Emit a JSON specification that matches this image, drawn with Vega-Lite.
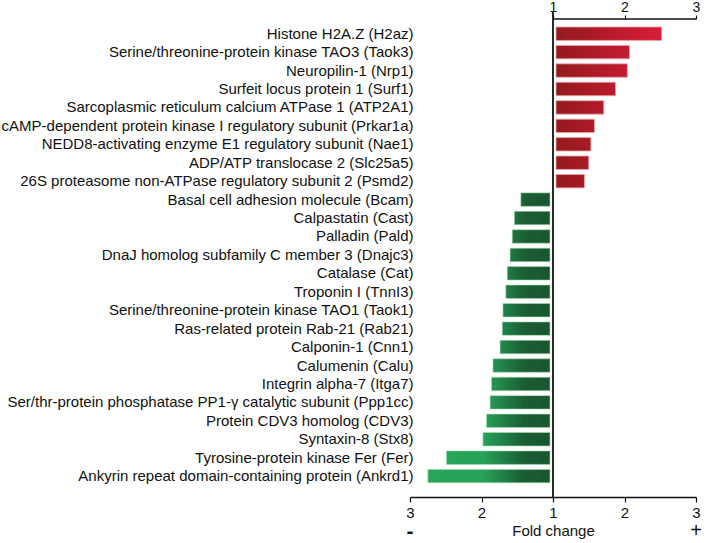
{
  "$schema": "https://vega.github.io/schema/vega-lite/v6.json",
  "width": 286,
  "height": 478,
  "autosize": {"type": "none"},
  "padding": {"left": 410, "top": 19, "right": 12, "bottom": 46},
  "config": {
    "font": "Liberation Sans",
    "view": {"stroke": null},
    "axis": {"grid": false, "labelColor": "#111111", "titleColor": "#111111", "domainColor": "#111111", "tickColor": "#111111"}
  },
  "datasets": {
    "proteins": [
      {"protein": "Histone H2A.Z (H2az)", "dir": "up", "fold": 2.52},
      {"protein": "Serine/threonine-protein kinase TAO3 (Taok3)", "dir": "up", "fold": 2.07},
      {"protein": "Neuropilin-1 (Nrp1)", "dir": "up", "fold": 2.04},
      {"protein": "Surfeit locus protein 1 (Surf1)", "dir": "up", "fold": 1.875},
      {"protein": "Sarcoplasmic reticulum calcium ATPase 1 (ATP2A1)", "dir": "up", "fold": 1.71},
      {"protein": "cAMP-dependent protein kinase I regulatory subunit (Prkar1a)", "dir": "up", "fold": 1.58},
      {"protein": "NEDD8-activating enzyme E1 regulatory subunit (Nae1)", "dir": "up", "fold": 1.53},
      {"protein": "ADP/ATP translocase 2 (Slc25a5)", "dir": "up", "fold": 1.5},
      {"protein": "26S proteasome non-ATPase regulatory subunit 2 (Psmd2)", "dir": "up", "fold": 1.44},
      {"protein": "Basal cell adhesion molecule (Bcam)", "dir": "down", "fold": 1.45},
      {"protein": "Calpastatin (Cast)", "dir": "down", "fold": 1.54},
      {"protein": "Palladin (Pald)", "dir": "down", "fold": 1.57},
      {"protein": "DnaJ homolog subfamily C member 3 (Dnajc3)", "dir": "down", "fold": 1.6},
      {"protein": "Catalase (Cat)", "dir": "down", "fold": 1.64},
      {"protein": "Troponin I (TnnI3)", "dir": "down", "fold": 1.66},
      {"protein": "Serine/threonine-protein kinase TAO1 (Taok1)", "dir": "down", "fold": 1.7},
      {"protein": "Ras-related protein Rab-21 (Rab21)", "dir": "down", "fold": 1.71},
      {"protein": "Calponin-1 (Cnn1)", "dir": "down", "fold": 1.74},
      {"protein": "Calumenin (Calu)", "dir": "down", "fold": 1.84},
      {"protein": "Integrin alpha-7 (Itga7)", "dir": "down", "fold": 1.86},
      {"protein": "Ser/thr-protein phosphatase PP1-γ catalytic subunit (Ppp1cc)", "dir": "down", "fold": 1.88},
      {"protein": "Protein CDV3 homolog (CDV3)", "dir": "down", "fold": 1.93},
      {"protein": "Syntaxin-8 (Stx8)", "dir": "down", "fold": 1.98},
      {"protein": "Tyrosine-protein kinase Fer (Fer)", "dir": "down", "fold": 2.49},
      {"protein": "Ankyrin repeat domain-containing protein (Ankrd1)", "dir": "down", "fold": 2.75}
    ],
    "single": [{"n": 1}]
  },
  "resolve": {"scale": {"x": "independent"}},
  "layer": [
    {
      "data": {"name": "proteins"},
      "transform": [{"filter": "datum.dir == 'up'"}],
      "mark": {
        "type": "bar",
        "x2Offset": 3,
        "stroke": "#f0a8a8",
        "strokeWidth": 0.8,
        "fill": {"expr": "{gradient: 'linear', x1: 0, y1: 0, x2: 1.52 / (datum.fold - 1), y2: 0, stops: [{offset: 0, color: '#931a1c'}, {offset: 1, color: '#da1c3b'}]}"}
      },
      "encoding": {
        "y": {
          "field": "protein", "type": "nominal", "sort": null,
          "scale": {"paddingInner": 0.27, "paddingOuter": 0.6, "align": 0.36},
          "axis": {"orient": "left", "title": null, "domain": false, "ticks": false, "labelPadding": -3, "labelFontSize": 15, "labelLimit": 500}
        },
        "x": {
          "field": "fold", "type": "quantitative",
          "scale": {"domain": [-1, 3], "nice": false, "zero": false},
          "axis": {"orient": "top", "values": [1, 2, 3], "format": "d", "title": null, "domain": false, "tickSize": 4, "tickWidth": 1.2, "labelPadding": 1, "labelFontSize": 14, "labelFlush": false}
        },
        "x2": {"datum": 1}
      }
    },
    {
      "data": {"name": "proteins"},
      "transform": [{"filter": "datum.dir == 'down'"}],
      "mark": {
        "type": "bar",
        "x2Offset": -3,
        "stroke": "#a8dcb8",
        "strokeWidth": 0.6,
        "fill": {"expr": "{gradient: 'linear', x1: 1 - 1.75 / (datum.fold - 1), y1: 0, x2: 1, y2: 0, stops: [{offset: 0, color: '#28a45b'}, {offset: 0.45, color: '#27a259'}, {offset: 0.78, color: '#1b5e34'}, {offset: 1, color: '#1a5530'}]}"}
      },
      "encoding": {
        "y": {
          "field": "protein", "type": "nominal", "sort": null,
          "axis": {"orient": "left", "title": null, "domain": false, "ticks": false, "labelPadding": -3, "labelFontSize": 15, "labelLimit": 500}
        },
        "x": {
          "field": "fold", "type": "quantitative",
          "scale": {"domain": [-1, 3], "nice": false, "zero": false, "reverse": true},
          "axis": {
            "orient": "bottom", "values": [3, 2, 1, 0, -1],
            "labelExpr": "datum.value < 1 ? format(2 - datum.value, 'd') : format(datum.value, 'd')",
            "title": "Fold change", "titleFontSize": 15, "titleFontWeight": "normal", "titlePadding": 3,
            "domainWidth": 1.6, "tickSize": 5, "tickWidth": 1.2, "labelPadding": 3, "labelFontSize": 15, "labelFlush": false
          }
        },
        "x2": {"datum": 1}
      }
    },
    {
      "data": {"name": "single"},
      "mark": {"type": "rule", "color": "#111111", "strokeWidth": 1.8, "y": -7, "y2": "height"},
      "encoding": {
        "x": {"datum": 1, "type": "quantitative", "scale": {"domain": [-1, 3], "nice": false, "zero": false}, "axis": null}
      }
    },
    {
      "data": {"name": "single"},
      "mark": {"type": "rule", "color": "#111111", "strokeWidth": 1.6, "y": 0},
      "encoding": {
        "x": {"datum": 1, "type": "quantitative", "scale": {"domain": [-1, 3], "nice": false, "zero": false}, "axis": null},
        "x2": {"datum": 3}
      }
    },
    {
      "data": {"name": "single"},
      "mark": {"type": "text", "text": "-", "fontSize": 21, "fontWeight": "bold", "y": "height", "dy": 35, "color": "#111111"},
      "encoding": {
        "x": {"datum": 3, "type": "quantitative", "scale": {"domain": [-1, 3], "nice": false, "zero": false, "reverse": true}, "axis": null}
      }
    },
    {
      "data": {"name": "single"},
      "mark": {"type": "text", "text": "+", "fontSize": 20, "y": "height", "dy": 34, "color": "#111111"},
      "encoding": {
        "x": {"datum": 3, "type": "quantitative", "scale": {"domain": [-1, 3], "nice": false, "zero": false}, "axis": null}
      }
    }
  ]
}
